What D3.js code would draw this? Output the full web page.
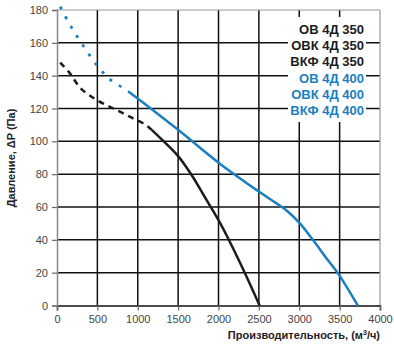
<!DOCTYPE html>
<html><head><meta charset="utf-8">
<script src="https://cdn.jsdelivr.net/npm/d3@7/dist/d3.min.js"></script>
<style>body{margin:0;background:#fff}svg{display:block}text{font-family:Arial,"Liberation Sans",sans-serif}</style>
</head><body><svg id="c" width="394" height="356"></svg>
<script>
const xTicks = [0,500,1000,1500,2000,2500,3000,3500,4000];
const yTicks = [0,20,40,60,80,100,120,140,160,180];
const legendLabels = ["ОВ 4Д 350","ОВК 4Д 350","ВКФ 4Д 350","ОВ 4Д 400","ОВК 4Д 400","ВКФ 4Д 400"];
const legendGroups = ["350","350","350","400","400","400"];
// black (350) curve
const black350DashedQ = [40,150,300,500,700,900,1100,1173];
const black350DashedP = [148,142,132,125,120,115,110,107];
const black350SolidQ = [1173,1300,1500,1667,1831,2000,2118,2325,2509];
const black350SolidP = [107,101,91,79.5,66,52,41,20,0];
// blue (400) curve
const blue400DottedQ = [40,160,300,500,650,800,880];
const blue400DottedP = [182,171,160,146,138,133,130.5];
const blue400SolidQ = [880,1173,1500,2000,2500,2700,2850,3000,3169,3334,3478,3725];
const blue400SolidP = [130.5,119.5,107,87,69.4,62.8,57.6,50.5,40,29,19.7,0];

const colors = {"350":"#1c1c1c","400":"#1a7fc1"};
const svg = d3.select("#c");
const x = d3.scaleLinear().domain([0,4000]).range([57,380]);
const y = d3.scaleLinear().domain([0,180]).range([305.5,10]);

// grid
svg.append("g").selectAll("line").data(xTicks.slice(1,-1)).join("line")
  .attr("x1",d=>x(d)).attr("x2",d=>x(d)).attr("y1",y(0)).attr("y2",y(180))
  .attr("stroke","#111").attr("stroke-width",1.5);
svg.append("g").selectAll("line").data(yTicks.slice(1,-1)).join("line")
  .attr("x1",x(0)).attr("x2",x(4000)).attr("y1",d=>y(d)).attr("y2",d=>y(d))
  .attr("stroke","#111").attr("stroke-width",1.5);
// border top/right gray
svg.append("line").attr("x1",x(0)).attr("x2",x(4000)).attr("y1",y(180)).attr("y2",y(180)).attr("stroke","#999").attr("stroke-width",1.2);
svg.append("line").attr("x1",x(4000)).attr("x2",x(4000)).attr("y1",y(0)).attr("y2",y(180)).attr("stroke","#999").attr("stroke-width",1.2);

// axes
const xAxis = svg.append("g").attr("transform",`translate(0,${y(0)})`)
  .call(d3.axisBottom(x).tickValues(xTicks).tickSize(5).tickPadding(5).tickFormat(d3.format("d")));
const yAxis = svg.append("g").attr("transform",`translate(${x(0)},0)`)
  .call(d3.axisLeft(y).tickValues(yTicks).tickSize(5).tickPadding(4).tickFormat(d3.format("d")));
xAxis.select(".domain").attr("stroke","#111").attr("stroke-width",1.5);
yAxis.select(".domain").attr("stroke","#888").attr("stroke-width",1.5);
[xAxis,yAxis].forEach(a=>{
  a.selectAll(".tick line").attr("stroke","#666").attr("stroke-width",1.2);
  a.selectAll(".tick text").attr("fill","#444").attr("font-size",11);
});

// legend white box
svg.append("rect").attr("x",288).attr("y",17).attr("width",78).attr("height",105).attr("fill","#fff");
svg.append("g").selectAll("text").data(legendLabels).join("text")
  .attr("x",364).attr("y",(d,i)=>34+i*16.2).attr("text-anchor","end")
  .attr("font-size",13).attr("font-weight","bold")
  .attr("fill",(d,i)=>colors[legendGroups[i]]).text(d=>d);

// curves
const line = d3.line().x(d=>x(d[0])).y(d=>y(d[1])).curve(d3.curveCatmullRom.alpha(0.5));
const zip=(a,b)=>a.map((v,i)=>[v,b[i]]);
svg.append("path").datum(zip(black350DashedQ,black350DashedP)).attr("d",line)
  .attr("fill","none").attr("stroke",colors["350"]).attr("stroke-width",2.5).attr("stroke-dasharray","6,5");
svg.append("path").datum(zip(black350SolidQ,black350SolidP)).attr("d",line)
  .attr("fill","none").attr("stroke",colors["350"]).attr("stroke-width",2.5);
svg.append("path").datum(zip(blue400DottedQ,blue400DottedP)).attr("d",line)
  .attr("fill","none").attr("stroke",colors["400"]).attr("stroke-width",2.8).attr("stroke-dasharray","3,8");
svg.append("path").datum(zip(blue400SolidQ,blue400SolidP)).attr("d",line)
  .attr("fill","none").attr("stroke",colors["400"]).attr("stroke-width",2.5);

// axis titles
svg.append("text").attr("x",380).attr("y",339).attr("text-anchor","end")
  .attr("font-size",11).attr("font-weight","bold").attr("fill","#222")
  .html('Производительность, (м<tspan dy="-4" font-size="7">3</tspan><tspan dy="4">/ч)</tspan>');
svg.append("text").attr("transform","translate(15,158) rotate(-90)").attr("text-anchor","middle")
  .attr("font-size",11).attr("font-weight","bold").attr("fill","#222").text("Давление, ΔP (Па)");
</script></body></html>
